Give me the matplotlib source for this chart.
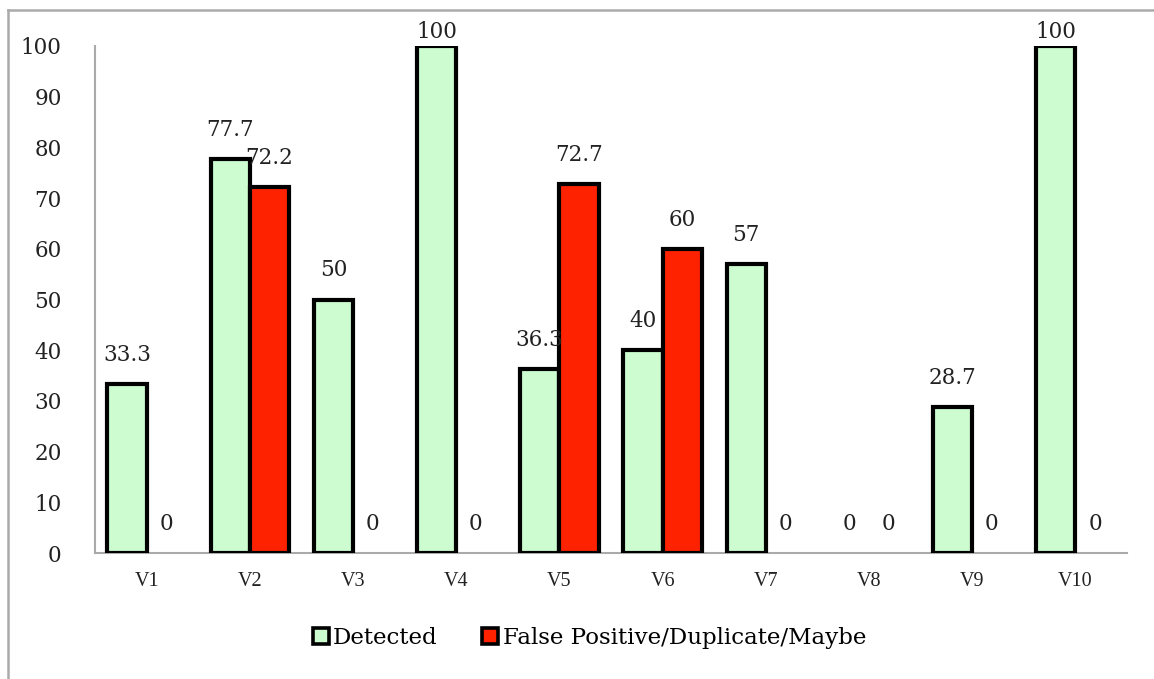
import numpy as np
import matplotlib.pyplot as plt
from matplotlib.lines import Line2D

# DATA

categories = ["V1", "V2", "V3", "V4", "V5", "V6", "V7", "V8", "V9", "V10"]
detected = [33.3, 77.7, 50, 100, 36.3, 40, 57, 0, 28.7, 100]
false_pos = [0, 72.2, 0, 0, 72.7, 60, 0, 0, 0, 0]
detected_labels = ["33.3", "77.7", "50", "100", "36.3", "40", "57", "0", "28.7", "100"]
false_labels = ["0", "72.2", "0", "0", "72.7", "60", "0", "0", "0", "0"]

green = "#ccfccf"
red = "#ff2200"
serif = "DejaVu Serif"

# PLOT

fig = plt.figure(figsize=(11.54, 6.79), dpi=100)
ax = fig.add_axes([95 / 1154, 1 - 553 / 679, (1127 - 95) / 1154, (553 - 46) / 679])

x = np.arange(len(categories))
w = 0.38
b1 = ax.bar(x - w / 2, detected, w, color=green, edgecolor="black", linewidth=3,
            zorder=3)
b2 = ax.bar(x + w / 2, false_pos, w, color=red, edgecolor="black", linewidth=3,
            zorder=3)
# zero-height bars should not show an outline
for bars, vals in [(b1, detected), (b2, false_pos)]:
    for bar, v in zip(bars, vals):
        if v == 0:
            bar.set_linewidth(0)

for bars, vals, labels in [(b1, detected, detected_labels), (b2, false_pos, false_labels)]:
    for bar, v, lab in zip(bars, vals, labels):
        # labels at the top of the plot area get pushed down, like excel does
        off = 10 if v >= 100 else 21
        ax.annotate(lab, (bar.get_x() + bar.get_width() / 2, v), xytext=(0, off),
                    textcoords="offset points", ha="center", va="center",
                    fontsize=15.5, family=serif, color="#222222", zorder=5)

ax.set_xlim(-0.5, len(categories) - 0.5)
ax.set_ylim(0, 100)
ax.set_yticks(range(0, 101, 10))
ax.set_xticks(x)
ax.set_xticklabels(categories, family="Liberation Serif", fontsize=14.5)
for lab in ax.get_yticklabels():
    lab.set_family(serif)
    lab.set_fontsize(15.5)
ax.tick_params(axis="y", length=0, pad=24, colors="#222222")
ax.tick_params(axis="x", length=0, pad=14, colors="#222222")

for s in ["top", "right"]:
    ax.spines[s].set_visible(False)
for s in ["left", "bottom"]:
    ax.spines[s].set_color("#aaaaaa")
    ax.spines[s].set_linewidth(1.5)

handles = [
    Line2D([], [], marker="s", linestyle="none", markersize=12,
           markerfacecolor=green, markeredgecolor="black", markeredgewidth=2.6),
    Line2D([], [], marker="s", linestyle="none", markersize=12,
           markerfacecolor=red, markeredgecolor="black", markeredgewidth=2.6),
]
fig.legend(handles, ["Detected", "False Positive/Duplicate/Maybe"],
           loc="center", bbox_to_anchor=(582 / 1154, 1 - 638 / 679), ncol=2,
           frameon=False, handletextpad=-0.45, columnspacing=1.3,
           prop={"family": serif, "size": 16.5})

# outer border (top and left only)
fig.add_artist(Line2D([8 / 1154, 1], [1 - 10 / 679, 1 - 10 / 679],
                      transform=fig.transFigure, color="#aaaaaa", linewidth=1.8))
fig.add_artist(Line2D([8 / 1154, 8 / 1154], [0, 1 - 10 / 679],
                      transform=fig.transFigure, color="#aaaaaa", linewidth=1.8))

fig.savefig("out.png", dpi=100)
